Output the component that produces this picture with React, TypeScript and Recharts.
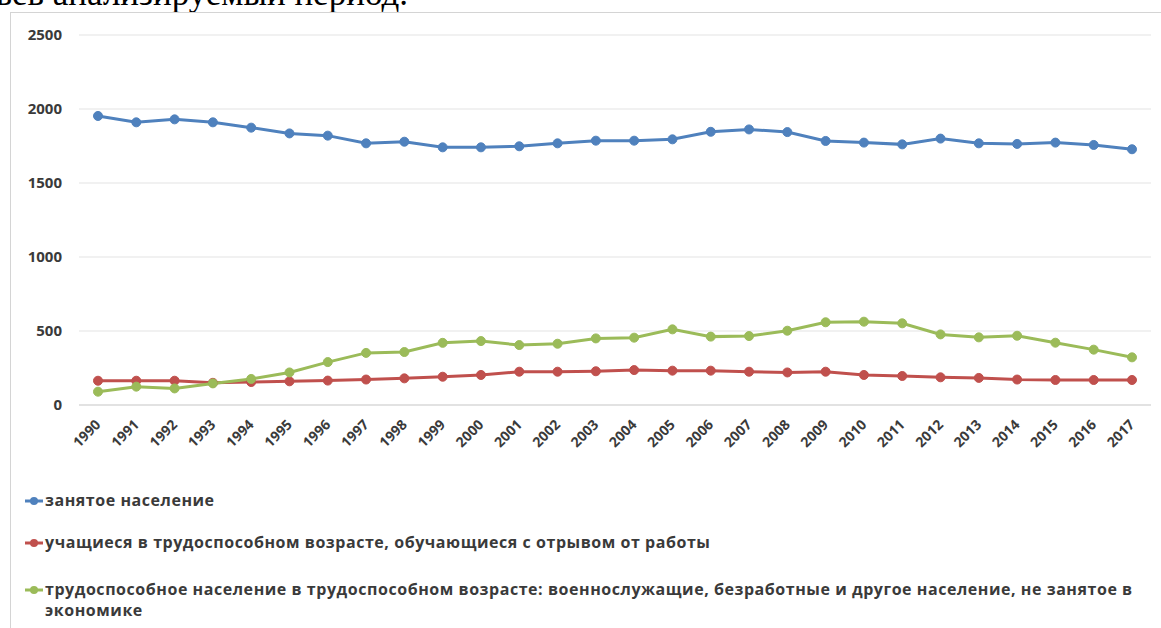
import { LineChart, Line, XAxis, YAxis, CartesianGrid } from 'recharts';

const years = [
  '1990', '1991', '1992', '1993', '1994', '1995', '1996', '1997', '1998', '1999',
  '2000', '2001', '2002', '2003', '2004', '2005', '2006', '2007', '2008', '2009',
  '2010', '2011', '2012', '2013', '2014', '2015', '2016', '2017',
];

const employed = [
  1953, 1910, 1930, 1910, 1874, 1835, 1820, 1768, 1779, 1741,
  1741, 1748, 1768, 1786, 1786, 1795, 1846, 1862, 1844, 1784,
  1773, 1761, 1800, 1768, 1764, 1773, 1757, 1728,
];

const students = [
  164, 164, 164, 150, 155, 160, 165, 172, 180, 191,
  203, 225, 225, 228, 236, 232, 232, 225, 220, 225,
  203, 196, 187, 183, 172, 169, 169, 169,
];

const notEmployed = [
  90, 124, 112, 146, 176, 220, 290, 352, 358, 420,
  432, 405, 414, 450, 455, 511, 462, 466, 502, 559,
  563, 552, 477, 457, 468, 421, 374, 322,
];

const yTicks = [0, 500, 1000, 1500, 2000, 2500];

const series = [
  { key: 'employed', name: 'занятое население', color: '#4f81bd' },
  { key: 'students', name: 'учащиеся в трудоспособном возрасте, обучающиеся с отрывом от работы', color: '#c0504d' },
  {
    key: 'notEmployed',
    name: 'трудоспособное население в трудоспособном возрасте: военнослужащие, безработные и другое население, не занятое в экономике',
    color: '#9bbb59',
  },
];

const data = years.map((year, i) => ({
  year,
  employed: employed[i],
  students: students[i],
  notEmployed: notEmployed[i],
}));

const labelFont = '"Open Sans", "DejaVu Sans", sans-serif';
const labelColor = '#3a3a3a';

// year labels run up to the right, their end sits just below-left of the tick
const YearTick = ({ x, y, payload }: any) => (
  <g transform={`translate(${x},${y})`}>
    <text
      x={-12}
      y={17}
      textAnchor="end"
      transform="rotate(-45)"
      fill={labelColor}
      fontFamily={labelFont}
      fontWeight={700}
      fontSize={14}
    >
      {payload.value}
    </text>
  </g>
);

export default function App() {
  return (
    <div style={{ position: 'absolute', left: 0, top: 0, width: 1161, height: 628, overflow: 'hidden', background: '#fff' }}>
      <div
        style={{
          position: 'absolute',
          left: -4,
          top: -24,
          fontFamily: '"Liberation Serif", "Times New Roman", serif',
          fontSize: 35,
          lineHeight: '35px',
          color: '#000',
          whiteSpace: 'nowrap',
        }}
      >
        ьев анализируемый период.
      </div>

      <div
        style={{
          position: 'absolute',
          left: 10,
          top: 12,
          width: 1161,
          height: 640,
          borderLeft: '1.5px solid #d4d4d4',
          borderTop: '1.5px solid #d4d4d4',
        }}
      />

      <div style={{ position: 'absolute', left: 0, top: 0 }}>
        <LineChart width={1161} height={485} data={data} margin={{ top: 35, right: 10, left: 0, bottom: 0 }}>
          <CartesianGrid vertical={false} stroke="#ececec" strokeWidth={1.5} />
          <XAxis
            dataKey="year"
            interval={0}
            padding={{ left: 19, right: 19 }}
            tickLine={false}
            axisLine={{ stroke: '#dcdcdc', strokeWidth: 1.5 }}
            tickSize={0}
            tickMargin={0}
            height={80}
            tick={<YearTick />}
          />
          <YAxis
            domain={[0, 2500]}
            ticks={yTicks}
            width={79}
            axisLine={false}
            tickLine={false}
            tickSize={0}
            tickMargin={17}
            tick={{ fill: labelColor, fontFamily: labelFont, fontWeight: 700, fontSize: 15 }}
          />
          {series.map((s) => (
            <Line
              key={s.key}
              type="linear"
              dataKey={s.key}
              name={s.name}
              stroke={s.color}
              strokeWidth={3}
              dot={{ r: 4.5, fill: s.color, stroke: s.color, strokeWidth: 1 }}
              isAnimationActive={false}
            />
          ))}
        </LineChart>
      </div>

      <div
        style={{
          position: 'absolute',
          left: 24,
          top: 490,
          width: 1122,
          fontFamily: labelFont,
          fontWeight: 700,
          fontSize: 16,
          letterSpacing: 0.55,
          color: labelColor,
        }}
      >
        {series.map((s, i) => (
          <div key={s.key} style={{ display: 'flex', alignItems: 'flex-start', marginBottom: i === 0 ? 21 : 26, lineHeight: '21px' }}>
            <svg width={20} height={21} style={{ flex: 'none' }}>
              <line x1={1} y1={11} x2={19} y2={11} stroke={s.color} strokeWidth={3} />
              <circle cx={10} cy={11} r={4} fill={s.color} />
            </svg>
            <span style={{ marginLeft: 1 }}>{s.name}</span>
          </div>
        ))}
      </div>
    </div>
  );
}
